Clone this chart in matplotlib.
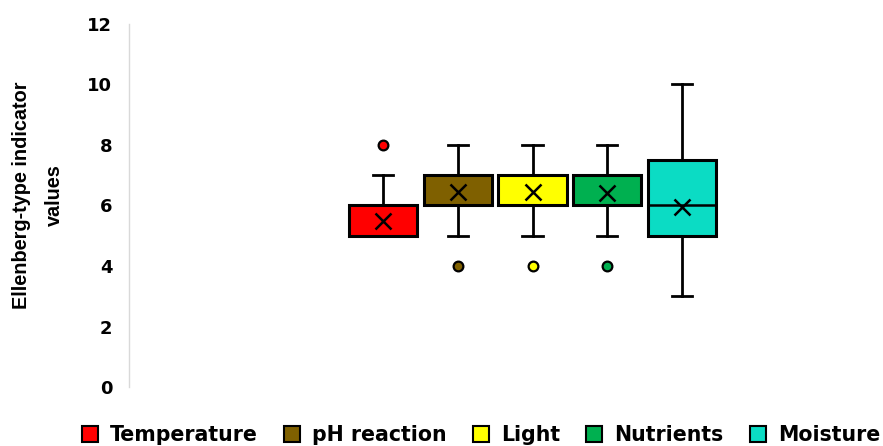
import matplotlib
matplotlib.use("Agg")
import matplotlib.pyplot as plt
from matplotlib.patches import Patch

plt.rcParams['font.family'] = ['DejaVu Sans']

categories = ["Temperature", "pH reaction", "Light", "Nutrients", "Moisture"]
colors = ["#FF0000", "#7F6000", "#FFFF00", "#00B050", "#0BDCC4"]
q1 = [5, 6, 6, 6, 5]
q3 = [6, 7, 7, 7, 7.5]
medians = [5, 6, 6, 6, 6]
whislo = [5, 5, 5, 5, 3]
whishi = [7, 8, 8, 8, 10]
means = [5.5, 6.45, 6.45, 6.4, 5.95]
outliers = [[8], [4], [4], [4], []]
yticks = [0, 2, 4, 6, 8, 10, 12]

fig = plt.figure(figsize=(8.83, 4.46), dpi=100)
ax = fig.add_axes([129/883, 59/446, 1 - 129/883, (387-24)/446])

stats = []
for i, c in enumerate(categories):
    stats.append(dict(label=c, q1=q1[i], q3=q3[i], med=medians[i], whislo=whislo[i],
                      whishi=whishi[i], mean=means[i], fliers=outliers[i]))

positions = [1, 2, 3, 4, 5]
for i in range(len(categories)):
    ax.bxp([stats[i]], positions=[positions[i]], widths=0.91, patch_artist=True,
           showmeans=True, showfliers=True,
           boxprops=dict(facecolor=colors[i], edgecolor='black', linewidth=2.2),
           medianprops=dict(color='black', linewidth=1.8),
           whiskerprops=dict(color='black', linewidth=2),
           capprops=dict(color='black', linewidth=2),
           capwidths=0.27,
           meanprops=dict(marker='x', markeredgecolor='black', markersize=12, markeredgewidth=1.8),
           flierprops=dict(marker='o', markerfacecolor=colors[i], markeredgecolor='black',
                           markersize=7, markeredgewidth=1.6))

ax.set_xlim(1 - 254/74.75, 1 + 500/74.75)
ax.set_ylim(0, 12)
ax.set_yticks(yticks)
ax.set_yticklabels([str(t) for t in yticks], fontsize=13, fontweight='bold')
ax.set_xticks([])
for s in ['top', 'right', 'bottom']:
    ax.spines[s].set_visible(False)
ax.spines['left'].set_color('#D9D9D9')
ax.spines['left'].set_linewidth(1)
ax.tick_params(axis='y', length=0, pad=12)

fig.text(38/883, 1 - 195/446, "Ellenberg-type indicator\nvalues", rotation=90, ha='center', va='center',
         fontsize=14.3, fontweight='bold', linespacing=1.9, family=['Liberation Sans', 'DejaVu Sans'])

handles = [Patch(facecolor=colors[i], edgecolor='black', linewidth=1.5, label=categories[i])
           for i in range(len(categories))]
fig.legend(handles=handles, loc='center', bbox_to_anchor=(481/883, 11/446), ncol=5, frameon=False,
           prop=dict(size=14.8, weight='bold'), handlelength=0.78, handleheight=0.78,
           handletextpad=0.58, columnspacing=1.28, borderpad=0, borderaxespad=0)

fig.savefig("out.png", dpi=100)
